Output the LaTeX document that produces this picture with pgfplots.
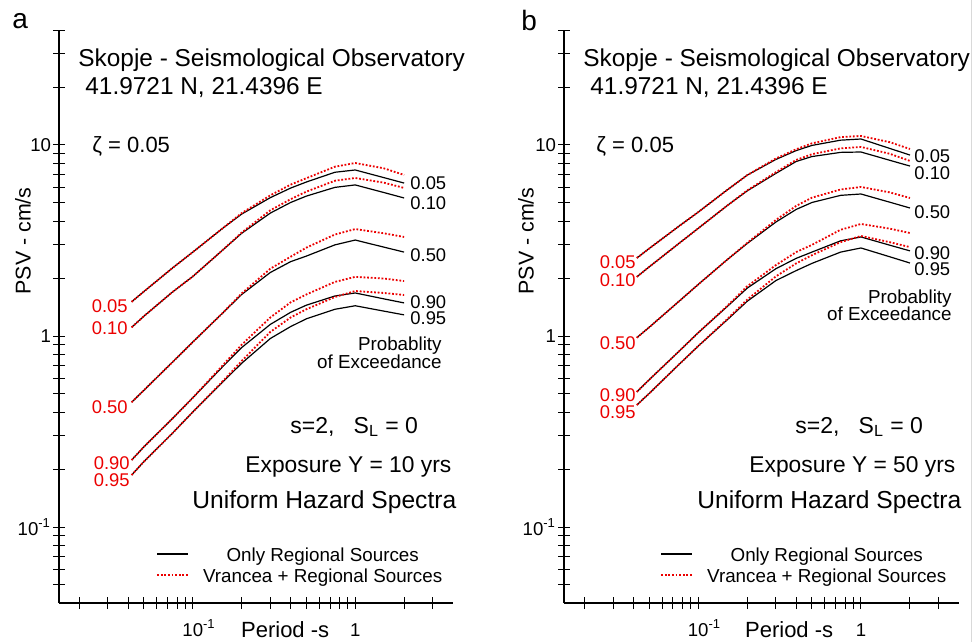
\documentclass[border=0pt]{standalone}
\usepackage{pgfplots}
\pgfplotsset{compat=1.18}
\usepackage{pgfplotstable}
\usepackage{fontspec}
\setmainfont{Liberation Sans}
\definecolor{uhsred}{RGB}{235,0,0}
\newcommand\fs[1]{\fontsize{#1}{#1}\selectfont}

\pgfplotstableread{
T B05 R05 B10 R10 B50 R50 B90 R90 B95 R95
0.042 1.51 1.51 1.11 1.11 0.45 0.45 0.224 0.224 0.187 0.187
0.05 1.71 1.71 1.27 1.27 0.52 0.52 0.263 0.263 0.22 0.22
0.075 2.27 2.27 1.70 1.70 0.73 0.73 0.37 0.37 0.31 0.31
0.1 2.75 2.75 2.05 2.05 0.93 0.93 0.475 0.475 0.40 0.40
0.15 3.62 3.62 2.78 2.78 1.30 1.30 0.68 0.69 0.565 0.57
0.2 4.35 4.40 3.45 3.48 1.65 1.67 0.87 0.90 0.72 0.74
0.3 5.30 5.45 4.40 4.55 2.15 2.25 1.15 1.25 0.97 1.05
0.4 5.95 6.20 5.00 5.20 2.45 2.60 1.33 1.50 1.12 1.25
0.5 6.40 6.70 5.40 5.70 2.62 2.90 1.45 1.65 1.23 1.38
0.75 7.20 7.70 6.00 6.50 3.00 3.40 1.62 1.92 1.38 1.60
1.0 7.40 8.05 6.18 6.72 3.18 3.63 1.68 2.04 1.44 1.72
1.5 6.75 7.55 5.64 6.35 2.92 3.45 1.565 2.00 1.35 1.68
2.0 6.32 6.97 5.28 5.96 2.75 3.30 1.49 1.94 1.29 1.64
}\dataA

\pgfplotstableread{
T B05 R05 B10 R10 B50 R50 B90 R90 B95 R95
0.042 2.56 2.56 2.04 2.04 0.98 0.98 0.51 0.51 0.435 0.435
0.05 2.87 2.87 2.30 2.30 1.11 1.11 0.59 0.59 0.50 0.50
0.075 3.72 3.72 3.02 3.02 1.50 1.50 0.82 0.82 0.70 0.70
0.1 4.45 4.45 3.66 3.66 1.86 1.86 1.04 1.04 0.885 0.885
0.15 5.80 5.80 4.80 4.80 2.50 2.50 1.42 1.43 1.21 1.22
0.2 6.95 6.95 5.75 5.78 3.05 3.07 1.78 1.82 1.52 1.55
0.3 8.40 8.50 7.10 7.20 3.95 4.05 2.25 2.35 1.95 2.05
0.4 9.35 9.50 8.20 8.35 4.60 4.80 2.55 2.75 2.20 2.40
0.5 9.95 10.20 8.70 8.95 5.00 5.30 2.75 3.00 2.40 2.65
0.75 10.60 11.00 9.15 9.60 5.45 5.85 3.15 3.60 2.75 3.10
1.0 10.75 11.15 9.19 9.77 5.54 6.03 3.30 3.86 2.89 3.34
1.5 9.60 10.35 8.32 9.00 5.02 5.65 2.99 3.65 2.60 3.10
2.0 8.86 9.53 7.76 8.25 4.68 5.28 2.79 3.46 2.41 2.92
}\dataB

\begin{document}
\begin{tikzpicture}
\path[use as bounding box] (0pt,0pt) rectangle (486.5pt,-321pt);

\begin{axis}[xmode=log, ymode=log,
    scale only axis, height=286.5pt, width=197pt,
    at={(29.5pt,-301.5pt)}, anchor=south west,
    xmin=0.015, xmax=4, ymin=0.04, ymax=40,
    axis lines*=left,
    axis line style={line width=0.6pt},
    tick align=center,
    major tick length=6pt, minor tick length=6pt,
    tick style={black, line width=0.5pt},
    xtick={0.1,1}, xticklabels={10\rlap{\textsuperscript{-1}},1},
    ytick={0.1,1,10}, yticklabels={10\textsuperscript{-1},1,10},
    minor xtick={0.02,0.03,0.04,0.05,0.06,0.07,0.08,0.09,0.2,0.3,0.4,0.5,0.6,0.7,0.8,0.9,2,3},
    minor ytick={0.05,0.06,0.07,0.08,0.09,0.2,0.3,0.4,0.5,0.6,0.7,0.8,0.9,2,3,4,5,6,7,8,9,20,30,40},
    ticklabel style={font=\fs{9.3}},
    xticklabel style={anchor=base, yshift=-13.5pt},
    yticklabel style={xshift=2.5pt},
    xlabel={Period -s},
    ylabel={PSV - cm/s},
    xlabel style={font=\fs{11}, anchor=center, at={(axis description cs:0.574,-0.046)}},
    ylabel style={font=\fs{10.7}, anchor=center, at={(axis description cs:-0.0914,0.632)}},
    legend cell align=center,
    legend image code/.code={\draw[#1] (0pt,0pt) -- (15.5pt,0pt);},
    legend style={draw=none, fill=none, inner sep=0pt, anchor=west,
      at={(axis description cs:0.246,0.0672)},
      font=\fs{9.4}, nodes={inner sep=0pt, text height=7pt, text depth=0pt},
      row sep=3.5pt, column sep=7pt}]
\addplot[black, line width=0.6pt, mark=none] table[x=T,y=B05]{\dataA};
\addlegendentry{Only Regional Sources}
\addplot[black, line width=0.6pt, mark=none, forget plot] table[x=T,y=B10]{\dataA};
\addplot[black, line width=0.6pt, mark=none, forget plot] table[x=T,y=B50]{\dataA};
\addplot[black, line width=0.6pt, mark=none, forget plot] table[x=T,y=B90]{\dataA};
\addplot[black, line width=0.6pt, mark=none, forget plot] table[x=T,y=B95]{\dataA};
\addplot[uhsred, line width=0.9pt, dash pattern=on 0.9pt off 0.9pt, mark=none] table[x=T,y=R05]{\dataA};
\addlegendentry{Vrancea + Regional Sources}
\addplot[uhsred, line width=0.9pt, dash pattern=on 0.9pt off 0.9pt, mark=none, forget plot] table[x=T,y=R10]{\dataA};
\addplot[uhsred, line width=0.9pt, dash pattern=on 0.9pt off 0.9pt, mark=none, forget plot] table[x=T,y=R50]{\dataA};
\addplot[uhsred, line width=0.9pt, dash pattern=on 0.9pt off 0.9pt, mark=none, forget plot] table[x=T,y=R90]{\dataA};
\addplot[uhsred, line width=0.9pt, dash pattern=on 0.9pt off 0.9pt, mark=none, forget plot] table[x=T,y=R95]{\dataA};
\end{axis}

\begin{axis}[xmode=log, ymode=log,
    scale only axis, height=286.5pt, width=197.5pt,
    at={(282pt,-301.5pt)}, anchor=south west,
    xmin=0.015, xmax=4, ymin=0.04, ymax=40,
    axis lines*=left,
    axis line style={line width=0.6pt},
    tick align=center,
    major tick length=6pt, minor tick length=6pt,
    tick style={black, line width=0.5pt},
    xtick={0.1,1}, xticklabels={10\rlap{\textsuperscript{-1}},1},
    ytick={0.1,1,10}, yticklabels={10\textsuperscript{-1},1,10},
    minor xtick={0.02,0.03,0.04,0.05,0.06,0.07,0.08,0.09,0.2,0.3,0.4,0.5,0.6,0.7,0.8,0.9,2,3},
    minor ytick={0.05,0.06,0.07,0.08,0.09,0.2,0.3,0.4,0.5,0.6,0.7,0.8,0.9,2,3,4,5,6,7,8,9,20,30,40},
    ticklabel style={font=\fs{9.3}},
    xticklabel style={anchor=base, yshift=-13.5pt},
    yticklabel style={xshift=2.5pt},
    xlabel={Period -s},
    ylabel={PSV - cm/s},
    xlabel style={font=\fs{11}, anchor=center, at={(axis description cs:0.57,-0.046)}},
    ylabel style={font=\fs{10.7}, anchor=center, at={(axis description cs:-0.0964,0.632)}},
    legend cell align=center,
    legend image code/.code={\draw[#1] (0pt,0pt) -- (15.5pt,0pt);},
    legend style={draw=none, fill=none, inner sep=0pt, anchor=west,
      at={(axis description cs:0.243,0.0672)},
      font=\fs{9.4}, nodes={inner sep=0pt, text height=7pt, text depth=0pt},
      row sep=3.5pt, column sep=7pt}]
\addplot[black, line width=0.6pt, mark=none] table[x=T,y=B05]{\dataB};
\addlegendentry{Only Regional Sources}
\addplot[black, line width=0.6pt, mark=none, forget plot] table[x=T,y=B10]{\dataB};
\addplot[black, line width=0.6pt, mark=none, forget plot] table[x=T,y=B50]{\dataB};
\addplot[black, line width=0.6pt, mark=none, forget plot] table[x=T,y=B90]{\dataB};
\addplot[black, line width=0.6pt, mark=none, forget plot] table[x=T,y=B95]{\dataB};
\addplot[uhsred, line width=0.9pt, dash pattern=on 0.9pt off 0.9pt, mark=none] table[x=T,y=R05]{\dataB};
\addlegendentry{Vrancea + Regional Sources}
\addplot[uhsred, line width=0.9pt, dash pattern=on 0.9pt off 0.9pt, mark=none, forget plot] table[x=T,y=R10]{\dataB};
\addplot[uhsred, line width=0.9pt, dash pattern=on 0.9pt off 0.9pt, mark=none, forget plot] table[x=T,y=R50]{\dataB};
\addplot[uhsred, line width=0.9pt, dash pattern=on 0.9pt off 0.9pt, mark=none, forget plot] table[x=T,y=R90]{\dataB};
\addplot[uhsred, line width=0.9pt, dash pattern=on 0.9pt off 0.9pt, mark=none, forget plot] table[x=T,y=R95]{\dataB};
\end{axis}

\begin{scope}[x=0.5pt, y=-0.5pt, every node/.style={inner sep=0pt}]
\draw[black!15, line width=0.5pt] (971,0) -- (971,642);
\node[anchor=base west, font=\fs{14}] at (12,29) {a};
\node[anchor=base west, font=\fs{14}] at (521,31) {b};
% panel a
\node[anchor=base west, font=\fs{12.2}] at (78,67) {Skopje - Seismological Observatory};
\node[anchor=base west, font=\fs{12.2}] at (85,95) {41.9721 N, 21.4396 E};
\node[anchor=base west, font=\fs{11}] at (92,152) {ζ = 0.05};
\node[anchor=west, font=\fs{9.2}] at (410,183) {0.05};
\node[anchor=west, font=\fs{9.2}] at (410,203) {0.10};
\node[anchor=west, font=\fs{9.2}] at (410,255) {0.50};
\node[anchor=west, font=\fs{9.2}] at (410,302) {0.90};
\node[anchor=west, font=\fs{9.2}] at (410,318) {0.95};
\node[anchor=east, font=\fs{9.2}, text=uhsred] at (128,306) {0.05};
\node[anchor=east, font=\fs{9.2}, text=uhsred] at (128,328) {0.10};
\node[anchor=east, font=\fs{9.2}, text=uhsred] at (128,407) {0.50};
\node[anchor=east, font=\fs{9.2}, text=uhsred] at (130,463) {0.90};
\node[anchor=east, font=\fs{9.2}, text=uhsred] at (130,480) {0.95};
\node[anchor=base east, font=\fs{9.4}] at (442,350) {Probablity};
\node[anchor=base east, font=\fs{9.4}] at (442,368) {of Exceedance};
\node[anchor=base west, font=\fs{11.5}] at (290,433) {s=2,\ \ \ S\textsubscript{L} = 0};
\node[anchor=base west, font=\fs{11.4}] at (245,472) {Exposure Y = 10 yrs};
\node[anchor=base west, font=\fs{12.3}] at (192,508) {Uniform Hazard Spectra};
% panel b
\node[anchor=base west, font=\fs{12.2}] at (583,67) {Skopje - Seismological Observatory};
\node[anchor=base west, font=\fs{12.2}] at (590,95) {41.9721 N, 21.4396 E};
\node[anchor=base west, font=\fs{11}] at (596,152) {ζ = 0.05};
\node[anchor=west, font=\fs{9.2}] at (914,156) {0.05};
\node[anchor=west, font=\fs{9.2}] at (914,173) {0.10};
\node[anchor=west, font=\fs{9.2}] at (914,212) {0.50};
\node[anchor=west, font=\fs{9.2}] at (914,253) {0.90};
\node[anchor=west, font=\fs{9.2}] at (914,269) {0.95};
\node[anchor=east, font=\fs{9.2}, text=uhsred] at (636,262) {0.05};
\node[anchor=east, font=\fs{9.2}, text=uhsred] at (636,280) {0.10};
\node[anchor=east, font=\fs{9.2}, text=uhsred] at (636,343) {0.50};
\node[anchor=east, font=\fs{9.2}, text=uhsred] at (636,395) {0.90};
\node[anchor=east, font=\fs{9.2}, text=uhsred] at (636,412) {0.95};
\node[anchor=base east, font=\fs{9.4}] at (952,303) {Probablity};
\node[anchor=base east, font=\fs{9.4}] at (952,320) {of Exceedance};
\node[anchor=base west, font=\fs{11.5}] at (795,433) {s=2,\ \ \ S\textsubscript{L} = 0};
\node[anchor=base west, font=\fs{11.4}] at (749,472) {Exposure Y = 50 yrs};
\node[anchor=base west, font=\fs{12.3}] at (697,508) {Uniform Hazard Spectra};
\end{scope}
\end{tikzpicture}
\end{document}
